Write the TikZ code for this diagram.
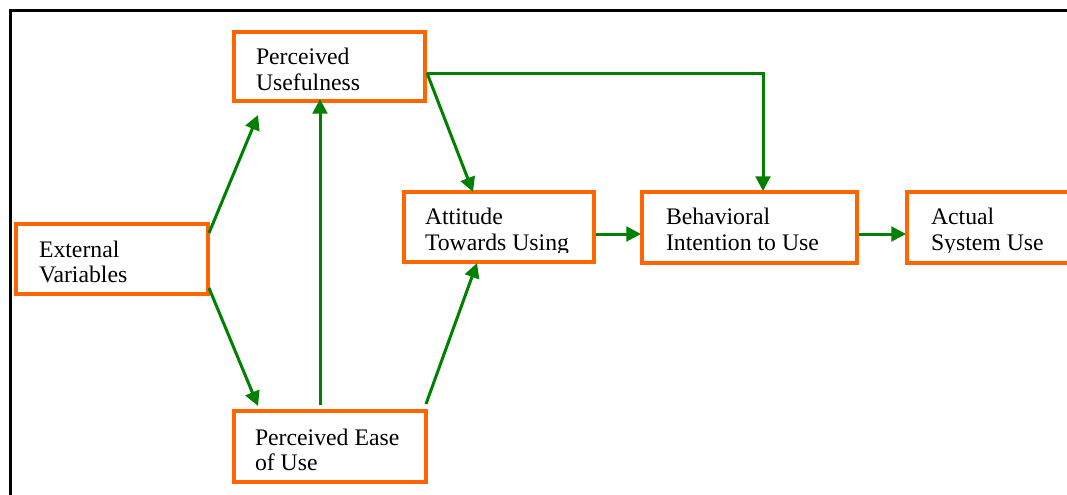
\documentclass[tikz,border=0pt]{standalone}
\usepackage{fontspec}
\setmainfont{Liberation Serif}
\usetikzlibrary{arrows.meta,calc}
\definecolor{boxorange}{RGB}{255,102,0}
\definecolor{arrgreen}{RGB}{0,128,0}
\begin{document}
\begin{tikzpicture}[x=0.75pt,y=-0.75pt,
  box/.style 2 args={draw=boxorange,line width=3.4pt,minimum width=#1,minimum height=#2,inner sep=0pt,outer sep=0pt},
  txt/.style={font=\fontsize{17.8pt}{19.5pt}\selectfont,anchor=base west,inner sep=0pt,outer sep=0pt},
  arr/.style={draw=arrgreen,line width=2.25pt,-{Triangle[length=11pt,width=11pt]}},
  frame/.style={draw=black,line width=2.25pt}]
\useasboundingbox (0,0) rectangle (1067,494);
\clip (0,0) rectangle (1067,494);
% frame
\draw[frame] (10,10) rectangle (1100,530);
% texts
\node[txt] (evt1) at (39,257) {External};
\node[txt] (evt2) at (39,282) {Variables};
\node[txt] (put1) at (256,64) {Perceived};
\node[txt] (put2) at (256,90) {Usefulness};
\node[txt] (peut1) at (255,445) {Perceived Ease};
\node[txt] (peut2) at (255,470) {of Use};
\begin{scope}
  \clip (404,192) rectangle (594,252);
  \node[txt] (atut1) at (425,224) {Attitude};
  \node[txt] (atut2) at (425,250) {Towards Using};
\end{scope}
\node[txt] (bit1) at (666,224) {Behavioral};
\node[txt] (bit2) at (666,250) {Intention to Use};
\begin{scope}
  \clip (907,192) rectangle (1100,252);
  \node[txt] (asut1) at (931,224) {Actual};
  \node[txt] (asut2) at (931,250) {System Use};
\end{scope}
% boxes
\node[box={144pt}{52.5pt}] (ev) at (112,259) {};
\node[box={143.25pt}{51.75pt}] (pu) at (329.5,66.5) {};
\node[box={144pt}{53.25pt}] (peu) at (330,446.5) {};
\node[box={142.5pt}{52.5pt}] (atu) at (499,227) {};
\node[box={161.25pt}{53.25pt}] (bi) at (749.5,227.5) {};
\node[box={161.25pt}{53.25pt}] (asu) at (1014.5,227.5) {};
% connectors
\draw[arr] ($(ev.north east)+(1,9)$) -- ($(pu.south west)+(24,14)$);
\draw[arr] ($(ev.south east)+(1,-6)$) -- ($(peu.north west)+(24,-5)$);
\draw[arr] ($(peu.north)+(-10,-6)$) -- ($(pu.south)+(-9.5,-2)$);
\draw[arr] ($(peu.north east)+(0,-7)$) -- ($(atu.south)+(-22,1)$);
\draw[arr] ($(pu.east)+(2,6.5)$) -- ($(atu.north)+(-26,0)$);
\draw[arr] ($(pu.east)+(2,6.5)$) -| ($(bi.north)+(13.5,-1)$);
\draw[arr] ($(atu.east)+(2,7)$) -- ($(bi.west)+(-1,6.5)$);
\draw[arr] ($(bi.east)+(2,6.5)$) -- ($(asu.west)+(-1,6.5)$);
\end{tikzpicture}
\end{document}
